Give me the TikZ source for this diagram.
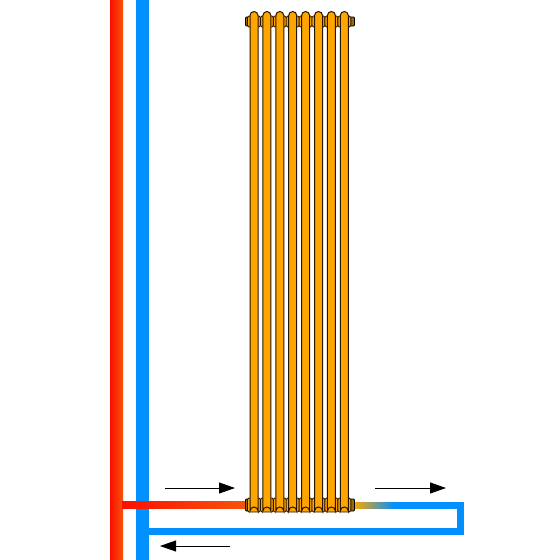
\documentclass[tikz,border=0pt]{standalone}
\usetikzlibrary{arrows.meta}
\definecolor{hotred}{RGB}{255,15,0}
\definecolor{warmred}{RGB}{245,85,10}
\definecolor{coldblue}{RGB}{0,145,255}
\definecolor{panel}{RGB}{255,165,0}
\definecolor{panelshade}{RGB}{150,105,20}
\definecolor{rim}{RGB}{40,22,0}
\tikzset{
  x=1pt,y=-1pt,
  flow/.style={line width=1pt,black,-{Triangle[length=16pt,width=11pt]}},
  column/.style={draw=rim,line width=1pt,fill=panel},
  collar/.style={draw=rim,line width=.9pt,fill=panel,rounded corners=1.5pt},
  capend/.style={draw=black,line width=.8pt,fill=panelshade,rounded corners=1pt},
}
\begin{document}
\begin{tikzpicture}
\useasboundingbox (0,0) rectangle (560,560);
\fill[white] (0,0) rectangle (560,560);
% supply and return risers
\fill[coldblue] (136,0) rectangle (149,560);
\shade[left color=hotred,right color=warmred] (110,0) rectangle (123,560);
% return loop
\fill[coldblue] (149,528) rectangle (463.5,535);
\fill[coldblue] (457,502) rectangle (463.5,535);
\fill[coldblue] (393,502) rectangle (463.5,508.5);
\shade[left color=panel,right color=coldblue] (354,502) rectangle (394,508.5);
% supply branch
\shade[left color=hotred,right color=warmred] (122,501) rectangle (246,508);
% header stubs at top and bottom
\foreach \yy/\hh in {16/11,498/14}{
  \draw[capend] (245.5,\yy+1) rectangle (250,\yy+\hh-1);
  \draw[capend] (349.5,\yy+1) rectangle (354.5,\yy+\hh-1);
  \foreach \cx in {254,266.9,279.8,292.7,305.6,318.5,331.4,344.3}{
    \draw[collar] (\cx-6.5,\yy) rectangle (\cx+6.5,\yy+\hh);
  }
}
% radiator columns
\foreach \cx in {254,266.9,279.8,292.7,305.6,318.5,331.4,344.3}{
  \draw[column] (\cx-4,15.5) arc[start angle=180,end angle=360,radius=4]
    -- (\cx+4,511) arc[start angle=0,end angle=-180,radius=4] -- cycle;
}
% flow direction arrows
\coordinate (inA) at (165,488);
\coordinate (inB) at (235,488);
\coordinate (outA) at (375,488);
\coordinate (outB) at (446,488);
\coordinate (backA) at (230,546);
\coordinate (backB) at (160,546);
\draw[flow] (inA) -- (inB);
\draw[flow] (outA) -- (outB);
\draw[flow] (backA) -- (backB);
\end{tikzpicture}
\end{document}
